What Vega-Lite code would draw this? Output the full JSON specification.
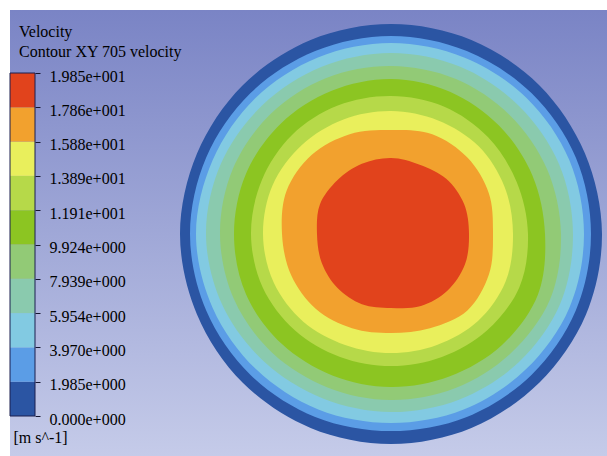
{
  "$schema": "https://vega.github.io/schema/vega-lite/v6.json",
  "width": 597,
  "height": 446,
  "autosize": {"type": "none"},
  "padding": {"left": 10, "top": 10, "right": 0, "bottom": 0},
  "background": "white",
  "view": {
    "stroke": null,
    "fill": {
      "gradient": "linear", "x1": 0, "y1": 0, "x2": 0, "y2": 1,
      "stops": [{"offset": 0, "color": "#7a84c5"}, {"offset": 1, "color": "#c5cbe9"}]
    }
  },
  "config": {"font": "Liberation Serif"},
  "datasets": {
    "contours": [
      {"lo":0,"i":0,"x":211,"y":0},{"lo":0,"i":1,"x":194.0,"y":80.4},{"lo":0,"i":2,"x":148.5,"y":148.5},{"lo":0,"i":3,"x":80.4,"y":194.0},
      {"lo":0,"i":4,"x":0,"y":210},{"lo":0,"i":5,"x":-80.4,"y":194.0},{"lo":0,"i":6,"x":-148.5,"y":148.5},{"lo":0,"i":7,"x":-194.0,"y":80.4},
      {"lo":0,"i":8,"x":-211,"y":0},{"lo":0,"i":9,"x":-194.0,"y":-80.4},{"lo":0,"i":10,"x":-148.5,"y":-148.5},{"lo":0,"i":11,"x":-80.4,"y":-194.0},
      {"lo":0,"i":12,"x":0,"y":-210},{"lo":0,"i":13,"x":80.4,"y":-194.0},{"lo":0,"i":14,"x":148.5,"y":-148.5},{"lo":0,"i":15,"x":194.9,"y":-80.8},

      {"lo":1.9848,"i":0,"x":200,"y":0},{"lo":1.9848,"i":1,"x":184.8,"y":76.5},{"lo":1.9848,"i":2,"x":140.7,"y":140.7},{"lo":1.9848,"i":3,"x":75.8,"y":182.9},
      {"lo":1.9848,"i":4,"x":0,"y":198},{"lo":1.9848,"i":5,"x":-75.8,"y":182.9},{"lo":1.9848,"i":6,"x":-140.7,"y":140.7},{"lo":1.9848,"i":7,"x":-184.8,"y":76.5},
      {"lo":1.9848,"i":8,"x":-201,"y":0},{"lo":1.9848,"i":9,"x":-184.8,"y":-76.5},{"lo":1.9848,"i":10,"x":-140.7,"y":-140.7},{"lo":1.9848,"i":11,"x":-75.8,"y":-182.9},
      {"lo":1.9848,"i":12,"x":0,"y":-197},{"lo":1.9848,"i":13,"x":75.8,"y":-182.9},{"lo":1.9848,"i":14,"x":140.7,"y":-140.7},{"lo":1.9848,"i":15,"x":184.8,"y":-76.5},

      {"lo":3.9696,"i":0,"x":193,"y":0},{"lo":3.9696,"i":1,"x":178.3,"y":73.9},{"lo":3.9696,"i":2,"x":135.8,"y":135.8},{"lo":3.9696,"i":3,"x":73.1,"y":176.5},
      {"lo":3.9696,"i":4,"x":0,"y":191},{"lo":3.9696,"i":5,"x":-73.1,"y":176.5},{"lo":3.9696,"i":6,"x":-135.8,"y":135.8},{"lo":3.9696,"i":7,"x":-178.3,"y":73.9},
      {"lo":3.9696,"i":8,"x":-195,"y":0},{"lo":3.9696,"i":9,"x":-178.3,"y":-73.9},{"lo":3.9696,"i":10,"x":-135.1,"y":-135.1},{"lo":3.9696,"i":11,"x":-72.7,"y":-175.5},
      {"lo":3.9696,"i":12,"x":0,"y":-189},{"lo":3.9696,"i":13,"x":72.7,"y":-175.5},{"lo":3.9696,"i":14,"x":135.1,"y":-135.1},{"lo":3.9696,"i":15,"x":178.3,"y":-73.9},

      {"lo":5.9544,"i":0,"x":182,"y":0},{"lo":5.9544,"i":1,"x":168.1,"y":69.7},{"lo":5.9544,"i":2,"x":128.0,"y":128.0},{"lo":5.9544,"i":3,"x":69.3,"y":167.2},
      {"lo":5.9544,"i":4,"x":0,"y":181},{"lo":5.9544,"i":5,"x":-69.3,"y":167.2},{"lo":5.9544,"i":6,"x":-128.7,"y":128.7},{"lo":5.9544,"i":7,"x":-170.0,"y":70.4},
      {"lo":5.9544,"i":8,"x":-185,"y":0},{"lo":5.9544,"i":9,"x":-169.1,"y":-70.0},{"lo":5.9544,"i":10,"x":-127.3,"y":-127.3},{"lo":5.9544,"i":11,"x":-68.1,"y":-164.5},
      {"lo":5.9544,"i":12,"x":0,"y":-178},{"lo":5.9544,"i":13,"x":68.5,"y":-165.4},{"lo":5.9544,"i":14,"x":128.0,"y":-128.0},{"lo":5.9544,"i":15,"x":169.1,"y":-70.0},

      {"lo":7.9392,"i":0,"x":170,"y":0},{"lo":7.9392,"i":1,"x":156.1,"y":64.7},{"lo":7.9392,"i":2,"x":118.8,"y":118.8},{"lo":7.9392,"i":3,"x":64.3,"y":155.2},
      {"lo":7.9392,"i":4,"x":0,"y":168},{"lo":7.9392,"i":5,"x":-64.7,"y":156.1},{"lo":7.9392,"i":6,"x":-120.2,"y":120.2},{"lo":7.9392,"i":7,"x":-158.0,"y":65.4},
      {"lo":7.9392,"i":8,"x":-171,"y":0},{"lo":7.9392,"i":9,"x":-157.1,"y":-65.1},{"lo":7.9392,"i":10,"x":-118.8,"y":-118.8},{"lo":7.9392,"i":11,"x":-63.5,"y":-153.4},
      {"lo":7.9392,"i":12,"x":0,"y":-166},{"lo":7.9392,"i":13,"x":63.9,"y":-154.3},{"lo":7.9392,"i":14,"x":119.5,"y":-119.5},{"lo":7.9392,"i":15,"x":158.9,"y":-65.8},

      {"lo":9.924,"i":0,"x":154,"y":0},{"lo":9.924,"i":1,"x":141.4,"y":58.6},{"lo":9.924,"i":2,"x":108.2,"y":108.2},{"lo":9.924,"i":3,"x":58.9,"y":142.3},
      {"lo":9.924,"i":4,"x":0,"y":155},{"lo":9.924,"i":5,"x":-59.3,"y":143.2},{"lo":9.924,"i":6,"x":-110.3,"y":110.3},{"lo":9.924,"i":7,"x":-145.1,"y":60.1},
      {"lo":9.924,"i":8,"x":-157,"y":0},{"lo":9.924,"i":9,"x":-145.1,"y":-60.1},{"lo":9.924,"i":10,"x":-109.6,"y":-109.6},{"lo":9.924,"i":11,"x":-58.6,"y":-141.4},
      {"lo":9.924,"i":12,"x":0,"y":-153},{"lo":9.924,"i":13,"x":58.9,"y":-142.3},{"lo":9.924,"i":14,"x":111.0,"y":-111.0},{"lo":9.924,"i":15,"x":146.9,"y":-60.8},

      {"lo":11.9088,"i":0,"x":137,"y":0},{"lo":11.9088,"i":1,"x":125.7,"y":52.0},{"lo":11.9088,"i":2,"x":96.9,"y":96.9},{"lo":11.9088,"i":3,"x":52.8,"y":127.5},
      {"lo":11.9088,"i":4,"x":0,"y":138},{"lo":11.9088,"i":5,"x":-53.2,"y":128.4},{"lo":11.9088,"i":6,"x":-99.0,"y":99.0},{"lo":11.9088,"i":7,"x":-129.3,"y":53.6},
      {"lo":11.9088,"i":8,"x":-140,"y":0},{"lo":11.9088,"i":9,"x":-128.4,"y":-53.2},{"lo":11.9088,"i":10,"x":-96.2,"y":-96.2},{"lo":11.9088,"i":11,"x":-50.9,"y":-122.9},
      {"lo":11.9088,"i":12,"x":0,"y":-132},{"lo":11.9088,"i":13,"x":50.9,"y":-122.9},{"lo":11.9088,"i":14,"x":96.2,"y":-96.2},{"lo":11.9088,"i":15,"x":128.4,"y":-53.2},

      {"lo":13.8936,"i":0,"x":122,"y":0},{"lo":13.8936,"i":1,"x":113.6,"y":47.1},{"lo":13.8936,"i":2,"x":87.7,"y":87.7},{"lo":13.8936,"i":3,"x":47.1,"y":113.6},
      {"lo":13.8936,"i":4,"x":0,"y":123},{"lo":13.8936,"i":5,"x":-47.5,"y":114.6},{"lo":13.8936,"i":6,"x":-89.1,"y":89.1},{"lo":13.8936,"i":7,"x":-118.3,"y":49.0},
      {"lo":13.8936,"i":8,"x":-128,"y":0},{"lo":13.8936,"i":9,"x":-117.3,"y":-48.6},{"lo":13.8936,"i":10,"x":-87.7,"y":-87.7},{"lo":13.8936,"i":11,"x":-45.9,"y":-110.9},
      {"lo":13.8936,"i":12,"x":0,"y":-119},{"lo":13.8936,"i":13,"x":45.9,"y":-110.9},{"lo":13.8936,"i":14,"x":87.0,"y":-87.0},{"lo":13.8936,"i":15,"x":114.6,"y":-47.5},

      {"lo":15.8784,"i":0,"x":102,"y":0},{"lo":15.8784,"i":1,"x":97.9,"y":40.6},{"lo":15.8784,"i":2,"x":76.4,"y":76.4},{"lo":15.8784,"i":3,"x":41.3,"y":99.8},
      {"lo":15.8784,"i":4,"x":0,"y":104},{"lo":15.8784,"i":5,"x":-41.3,"y":99.8},{"lo":15.8784,"i":6,"x":-79.2,"y":79.2},{"lo":15.8784,"i":7,"x":-104.4,"y":43.2},
      {"lo":15.8784,"i":8,"x":-109,"y":0},{"lo":15.8784,"i":9,"x":-99.8,"y":-41.3},{"lo":15.8784,"i":10,"x":-75.0,"y":-75.0},{"lo":15.8784,"i":11,"x":-39.0,"y":-94.2},
      {"lo":15.8784,"i":12,"x":0,"y":-99},{"lo":15.8784,"i":13,"x":39.0,"y":-94.2},{"lo":15.8784,"i":14,"x":76.4,"y":-76.4},{"lo":15.8784,"i":15,"x":97.9,"y":-40.6},

      {"lo":17.8632,"i":0,"x":78,"y":0},{"lo":17.8632,"i":1,"x":73.0,"y":30.2},{"lo":17.8632,"i":2,"x":55.2,"y":55.2},{"lo":17.8632,"i":3,"x":28.7,"y":69.3},
      {"lo":17.8632,"i":4,"x":0,"y":76},{"lo":17.8632,"i":5,"x":-29.1,"y":70.2},{"lo":17.8632,"i":6,"x":-53.7,"y":53.7},{"lo":17.8632,"i":7,"x":-71.1,"y":29.5},
      {"lo":17.8632,"i":8,"x":-74,"y":0},{"lo":17.8632,"i":9,"x":-69.3,"y":-28.7},{"lo":17.8632,"i":10,"x":-53.7,"y":-53.7},{"lo":17.8632,"i":11,"x":-29.1,"y":-70.2},
      {"lo":17.8632,"i":12,"x":0,"y":-74},{"lo":17.8632,"i":13,"x":29.9,"y":-72.1},{"lo":17.8632,"i":14,"x":56.6,"y":-56.6},{"lo":17.8632,"i":15,"x":73.9,"y":-30.6}
    ],
    "bands": [
      {"lo":0,"hi":1.9848},{"lo":1.9848,"hi":3.9696},{"lo":3.9696,"hi":5.9544},{"lo":5.9544,"hi":7.9392},{"lo":7.9392,"hi":9.924},
      {"lo":9.924,"hi":11.9088},{"lo":11.9088,"hi":13.8936},{"lo":13.8936,"hi":15.8784},{"lo":15.8784,"hi":17.8632},{"lo":17.8632,"hi":19.848}
    ]
  },
  "layer": [
    {
      "data": {"name": "contours"},
      "mark": {"type": "line", "filled": true, "interpolate": "cardinal-closed"},
      "encoding": {
        "x": {"field": "x", "type": "quantitative", "scale": {"domain": [-381, 216], "nice": false, "zero": false}, "axis": null},
        "y": {"field": "y", "type": "quantitative", "scale": {"domain": [-222, 224], "nice": false, "zero": false}, "axis": null},
        "order": {"field": "i", "type": "quantitative"},
        "detail": {"field": "lo", "type": "quantitative"},
        "color": {
          "field": "lo", "type": "quantitative",
          "scale": {
            "type": "threshold",
            "domain": [1.9848, 3.9696, 5.9544, 7.9392, 9.924, 11.9088, 13.8936, 15.8784, 17.8632],
            "range": ["#2b55a3", "#5b9de6", "#82cae2", "#8acaae", "#92ca76", "#8cc522", "#b6d949", "#e9ef5c", "#f2a12e", "#e1431c"]
          },
          "legend": null
        }
      }
    },
    {
      "layer": [
        {
          "data": {"name": "bands"},
          "mark": {"type": "rect"},
          "encoding": {
            "x": {
              "datum": 0, "type": "quantitative",
              "scale": {"domain": [0, 23.88], "nice": false, "zero": false},
              "axis": {
                "orient": "bottom", "domain": false, "ticks": false, "labels": false, "grid": false,
                "title": "[m s^-1]", "titleX": 3, "titleY": -14, "titleAlign": "left", "titleAnchor": "start",
                "titleBaseline": "alphabetic", "titleFont": "Liberation Serif", "titleFontSize": 16,
                "titleFontWeight": "normal", "titleColor": "black"
              }
            },
            "x2": {"datum": 1},
            "y": {
              "field": "lo", "type": "quantitative",
              "scale": {"domain": [-2.3146, 23.4936], "nice": false, "zero": false},
              "axis": {
                "orient": "right", "offset": -572,
                "values": [0, 1.9848, 3.9696, 5.9544, 7.9392, 9.924, 11.9088, 13.8936, 15.8784, 17.8632, 19.848],
                "labelExpr": "replace(format(datum.value, '.3e'), 'e+', 'e+00')",
                "labelFont": "Liberation Serif", "labelFontSize": 16, "labelColor": "black",
                "labelPadding": 9, "labelOffset": 3, "labelFlush": false, "labelOverlap": false, "labelBound": false,
                "tickSize": 5, "tickColor": "#151530", "tickWidth": 1, "domain": false, "grid": false,
                "title": ["Velocity", "Contour XY 705 velocity"],
                "titleAngle": 0, "titleAlign": "left", "titleBaseline": "alphabetic",
                "titleX": -16.5, "titleY": 26, "titleFont": "Liberation Serif", "titleFontSize": 16,
                "titleFontWeight": "normal", "titleColor": "black", "titleLineHeight": 20.5
              }
            },
            "y2": {"field": "hi"},
            "color": {
              "field": "lo", "type": "quantitative",
              "scale": {
                "type": "threshold",
                "domain": [1.9848, 3.9696, 5.9544, 7.9392, 9.924, 11.9088, 13.8936, 15.8784, 17.8632],
                "range": ["#2b55a3", "#5b9de6", "#82cae2", "#8acaae", "#92ca76", "#8cc522", "#b6d949", "#e9ef5c", "#f2a12e", "#e1431c"]
              },
              "legend": null
            }
          }
        },
        {
          "data": {"values": [{"edge": "outline"}]},
          "mark": {"type": "rect", "filled": false, "stroke": "#1b1f4f", "strokeWidth": 1},
          "encoding": {
            "x": {"datum": 0, "type": "quantitative"},
            "x2": {"datum": 1},
            "y": {"datum": 0, "type": "quantitative"},
            "y2": {"datum": 19.848}
          }
        }
      ]
    }
  ],
  "resolve": {
    "scale": {"x": "independent", "y": "independent", "color": "shared"},
    "axis": {"x": "independent", "y": "independent"}
  }
}
